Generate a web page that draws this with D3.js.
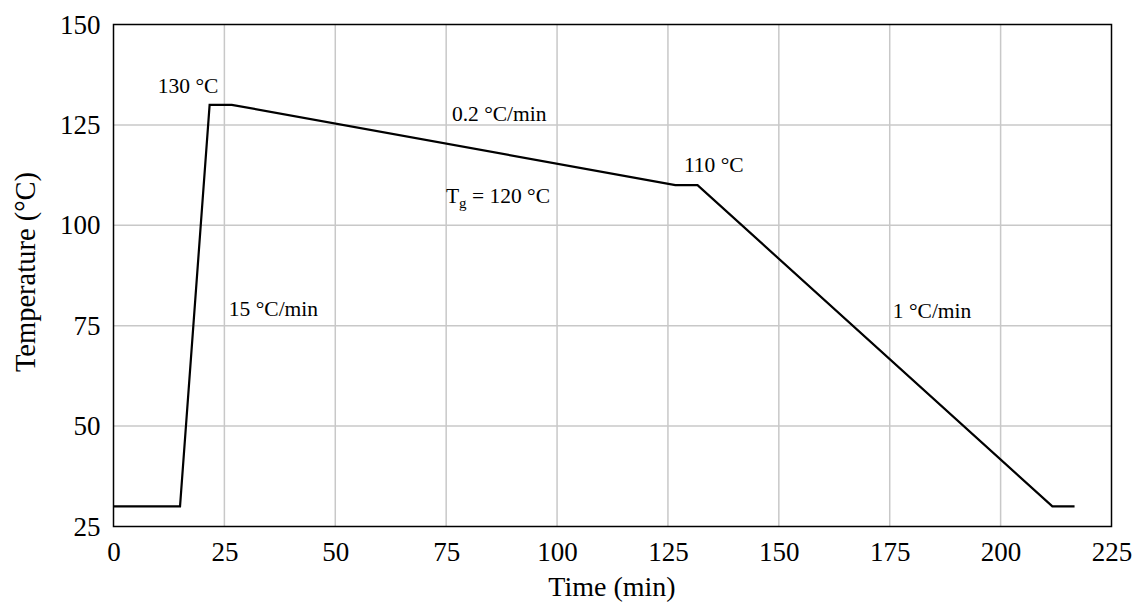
<!DOCTYPE html>
<html>
<head>
<meta charset="utf-8">
<script src="https://cdn.jsdelivr.net/npm/d3@7/dist/d3.min.js"></script>
<style>
  html, body { margin: 0; padding: 0; background: #fff; }
  svg { display: block; font-family: "Liberation Serif", "Times New Roman", serif; }
</style>
</head>
<body>
<svg id="chart" width="1135" height="605"></svg>
<script>
// Heat-treatment temperature profile
const times = [0, 15, 21.67, 26.67, 126.67, 131.67, 211.67, 216.67];
const temps = [30, 30, 130, 130, 110, 110, 30, 30];
const xTicks = [0, 25, 50, 75, 100, 125, 150, 175, 200, 225];
const yTicks = [25, 50, 75, 100, 125, 150];

// Annotations anchored at their left baseline: [time, temperature, text]
const notes = [
  { t: 10.0, v: 132.9, text: "130 °C" },
  { t: 76.3, v: 126.0, text: "0.2 °C/min" },
  { t: 128.6, v: 113.3, text: "110 °C" },
  { t: 26.0, v: 77.4, text: "15 °C/min" },
  { t: 175.7, v: 76.9, text: "1 °C/min" }
];

const svg = d3.select("#chart");
const margin = { left: 113.5, right: 1135 - 1111.5, top: 24.5, bottom: 605 - 526.5 };
const W = 1135 - margin.left - margin.right;
const H = 605 - margin.top - margin.bottom;

const x = d3.scaleLinear().domain([0, 225]).range([0, W]);
const y = d3.scaleLinear().domain([25, 150]).range([H, 0]);

const g = svg.append("g").attr("transform", `translate(${margin.left},${margin.top})`);

// grid
g.append("g").selectAll("line").data(xTicks.slice(1, -1)).join("line")
  .attr("x1", d => x(d)).attr("x2", d => x(d)).attr("y1", 0).attr("y2", H)
  .attr("stroke", "#c8c8c8").attr("stroke-width", 1.5);
g.append("g").selectAll("line").data(yTicks.slice(1, -1)).join("line")
  .attr("y1", d => y(d)).attr("y2", d => y(d)).attr("x1", 0).attr("x2", W)
  .attr("stroke", "#c8c8c8").attr("stroke-width", 1.5);

// axes (labels only)
const xAxis = g.append("g").attr("transform", `translate(0,${H})`)
  .call(d3.axisBottom(x).tickValues(xTicks).tickSize(0).tickPadding(15));
const yAxis = g.append("g")
  .call(d3.axisLeft(y).tickValues(yTicks).tickSize(0).tickPadding(13));
[xAxis, yAxis].forEach(a => {
  a.select(".domain").remove();
  a.selectAll("text").attr("font-size", 27).attr("fill", "#000")
    .attr("font-family", "Liberation Serif, Times New Roman, serif");
});

// frame
g.append("rect").attr("x", 0).attr("y", 0).attr("width", W).attr("height", H)
  .attr("fill", "none").attr("stroke", "#000").attr("stroke-width", 1.5);

// profile line
const pts = times.map((t, i) => [t, temps[i]]);
g.append("path").datum(pts)
  .attr("d", d3.line().x(d => x(d[0])).y(d => y(d[1])))
  .attr("fill", "none").attr("stroke", "#000").attr("stroke-width", 2.2)
  .attr("stroke-linejoin", "miter");

// annotations
g.append("g").selectAll("text").data(notes).join("text")
  .attr("x", d => x(d.t)).attr("y", d => y(d.v))
  .attr("font-size", 21.5).attr("fill", "#000")
  .text(d => d.text);

// Tg label with subscript
const tg = g.append("text").attr("x", x(74.95)).attr("y", y(105.6))
  .attr("font-size", 21.5).attr("fill", "#000");
tg.append("tspan").text("T");
tg.append("tspan").attr("font-size", 15).attr("dy", 5).text("g");
tg.append("tspan").attr("dy", -5).text(" = 120 °C");

// axis titles
svg.append("text").attr("x", 612).attr("y", 596)
  .attr("text-anchor", "middle").attr("font-size", 28).text("Time (min)");
svg.append("text")
  .attr("transform", `translate(35,${272}) rotate(-90)`)
  .attr("text-anchor", "middle").attr("font-size", 28.5).text("Temperature (°C)");
</script>
</body>
</html>
